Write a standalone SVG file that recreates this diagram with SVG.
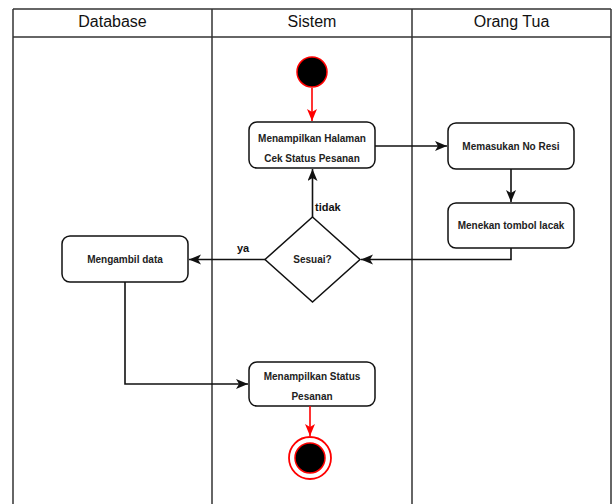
<svg xmlns="http://www.w3.org/2000/svg" width="614" height="504" viewBox="0 0 614 504">
<style>
.lane{fill:none;stroke:#333;stroke-width:1.5}
.hdr{font-family:"Liberation Sans",Arial,sans-serif;font-size:16px;fill:#111;text-anchor:middle}
.box{fill:#fff;stroke:#111;stroke-width:1.5}
.lbl{font-family:"Liberation Sans",Arial,sans-serif;font-size:10px;font-weight:bold;fill:#222;text-anchor:middle}
.edge{fill:none;stroke:#111;stroke-width:1.6}
.red{fill:none;stroke:#f00;stroke-width:1.6}
.elbl{font-family:"Liberation Sans",Arial,sans-serif;font-size:11px;font-weight:bold;fill:#111}
</style>
<defs>
<marker id="ab" markerUnits="userSpaceOnUse" markerWidth="13" markerHeight="11" refX="12" refY="5" orient="auto"><path d="M0,0 L12,5 L0,10 L3,5 Z" fill="#111"/></marker>
<marker id="ar" markerUnits="userSpaceOnUse" markerWidth="13" markerHeight="11" refX="12" refY="5" orient="auto"><path d="M0,0 L12,5 L0,10 L3,5 Z" fill="#f00"/></marker>
</defs>
<rect width="614" height="504" fill="#fff"/>
<g id="lanes">
<line class="lane" x1="13" y1="9" x2="611" y2="9"/>
<line class="lane" x1="13" y1="37" x2="611" y2="37"/>
<line class="lane" x1="13" y1="9" x2="13" y2="504"/>
<line class="lane" x1="212" y1="9" x2="212" y2="504"/>
<line class="lane" x1="412" y1="9" x2="412" y2="504"/>
<line class="lane" x1="611" y1="9" x2="611" y2="504"/>
<text class="hdr" x="112.5" y="27">Database</text>
<text class="hdr" x="312" y="27">Sistem</text>
<text class="hdr" x="511.5" y="27">Orang Tua</text>
</g>
<g id="start"><circle cx="312" cy="72" r="15" fill="#000" stroke="#f00" stroke-width="1.5"/></g>
<g id="halaman"><rect class="box" x="249" y="122" width="126" height="46" rx="8"/><text class="lbl" x="312" y="141.5">Menampilkan Halaman</text><text class="lbl" x="312" y="161.5">Cek Status Pesanan</text></g>
<g id="resi"><rect class="box" x="448" y="123" width="126" height="46" rx="8"/><text class="lbl" x="511" y="149.5">Memasukan No Resi</text></g>
<g id="lacak"><rect class="box" x="448" y="203" width="126" height="45" rx="8"/><text class="lbl" x="511" y="229">Menekan tombol lacak</text></g>
<g id="sesuai"><polygon class="box" points="312.5,217 360,259.5 312.5,302 265,259.5"/><text class="lbl" x="312.5" y="263">Sesuai?</text></g>
<g id="ambil"><rect class="box" x="62" y="236" width="126" height="46" rx="8"/><text class="lbl" x="125" y="262.5">Mengambil data</text></g>
<g id="status"><rect class="box" x="249" y="362" width="126" height="44" rx="8"/><text class="lbl" x="312" y="379.5">Menampilkan Status</text><text class="lbl" x="312" y="399.5">Pesanan</text></g>
<g id="end"><circle cx="310" cy="458" r="21" fill="#fff" stroke="#f00" stroke-width="1.8"/><circle cx="310" cy="458" r="15" fill="#000" stroke="#f00" stroke-width="1.5"/></g>
<g id="connectors">
<line class="red" x1="312" y1="88" x2="312" y2="121" marker-end="url(#ar)"/>
<line class="edge" x1="375" y1="146" x2="447" y2="146" marker-end="url(#ab)"/>
<line class="edge" x1="511" y1="169" x2="511" y2="202" marker-end="url(#ab)"/>
<polyline class="edge" points="511,248 511,259.5 361,259.5" marker-end="url(#ab)"/>
<line class="edge" x1="312.5" y1="217" x2="312.5" y2="169" marker-end="url(#ab)"/>
<text class="elbl" x="315" y="211">tidak</text>
<line class="edge" x1="265" y1="259.5" x2="189" y2="259.5" marker-end="url(#ab)"/>
<text class="elbl" x="237" y="252">ya</text>
<polyline class="edge" points="125,282 125,384 248,384" marker-end="url(#ab)"/>
<line class="red" x1="310" y1="406" x2="310" y2="436" marker-end="url(#ar)"/>
</g>
</svg>
